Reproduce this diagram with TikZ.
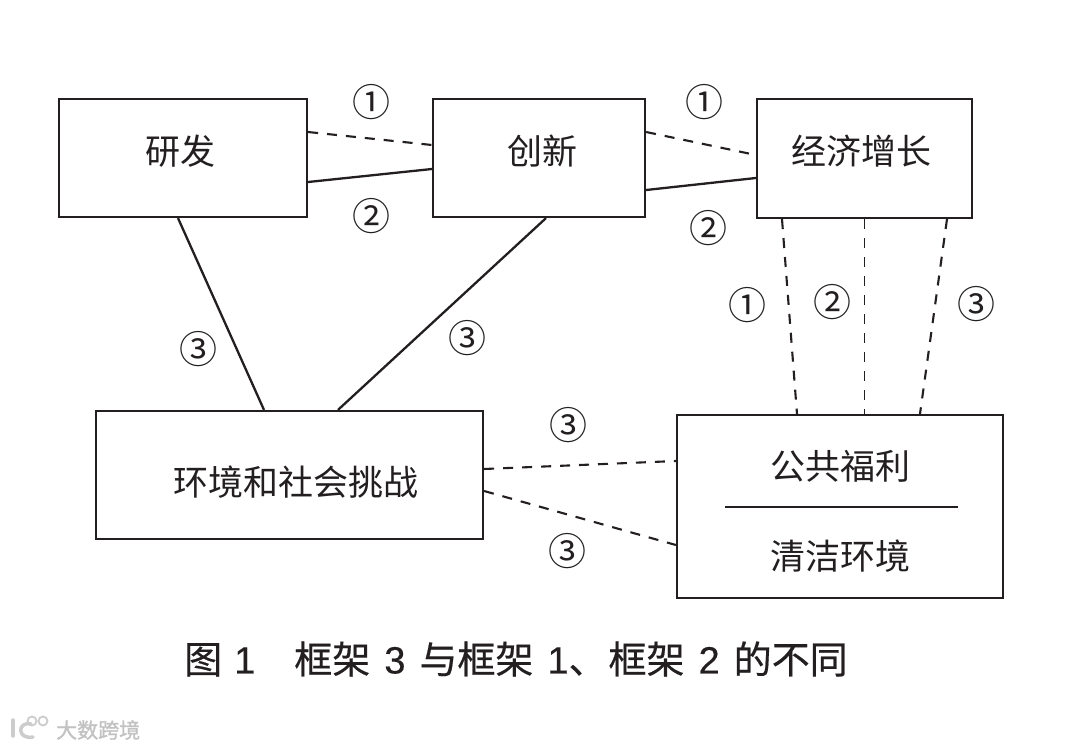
\documentclass[tikz,border=0pt]{standalone}
\usepackage{fontspec}
\setmainfont{Liberation Sans}
\newfontfamily\cjk{Noto Sans CJK SC}
\newfontfamily\capcjk{Noto Sans CJK SC}[FakeBold=0.5]
\newfontfamily\capnum{Liberation Sans}[FakeBold=0.3]
\newfontfamily\wmcjk{Noto Sans CJK SC}[FakeBold=1.2]
\definecolor{ink}{HTML}{231F20}
\tikzset{
  box/.style={draw=ink,line width=2.2pt,inner sep=0pt},
  dashline/.style={draw=ink,line width=2.1pt,dash pattern=on 10pt off 9pt},
  solidline/.style={draw=ink,line width=2.3pt},
  boxtext/.style={text=ink,inner sep=0pt,font=\cjk\fontsize{35}{35}\selectfont},
  num/.style={text=ink,inner sep=0pt,font=\cjk\fontsize{38}{38}\selectfont}
}
\begin{document}
\begin{tikzpicture}[x=1pt,y=-1pt]
\useasboundingbox[fill=white] (0,0) rectangle (1080,750);
\node[box,minimum width=248pt,minimum height=118pt] (a) at (183,158) {};
\node[box,minimum width=212pt,minimum height=118pt] (b) at (539,158) {};
\node[box,minimum width=215pt,minimum height=119pt] (c) at (864.5,158.5) {};
\node[box,minimum width=387pt,minimum height=128pt] (d) at (289.5,475) {};
\node[box,minimum width=326pt,minimum height=183pt] (e) at (840,506.5) {};
\node[boxtext] (ta) at (180,151) {研发};
\node[boxtext] (tb) at (542,151) {创新};
\node[boxtext] (tc) at (861,151) {经济增长};
\node[boxtext] (td) at (296,482) {环境和社会挑战};
\node[boxtext] (te) at (840,466) {公共福利};
\node[boxtext] (tf) at (840,556) {清洁环境};
\draw[solidline,line width=2pt] ([xshift=-115pt]e.center) -- ([xshift=118pt]e.center);
% connectors
\draw[dashline] ([yshift=26pt]a.east) -- ([yshift=13pt]b.west);
\draw[solidline] ([yshift=-24pt]a.east) -- ([yshift=-11pt]b.west);
\draw[dashline] ([yshift=26pt]b.east) -- ([yshift=3.5pt]c.west);
\draw[solidline] ([yshift=-32pt]b.east) -- ([yshift=-19.5pt]c.west);
\draw[solidline] ([xshift=-5pt]a.south) -- ([xshift=-25.5pt]d.north);
\draw[solidline] ([xshift=7pt]b.south) -- ([xshift=48.5pt]d.north);
\draw[dashline] ([xshift=-82.5pt]c.south) -- ([xshift=-43pt]e.north);
\draw[dashline,line width=1.6pt] (c.south) -- ([xshift=24.5pt]e.north);
\draw[dashline] ([xshift=82.5pt]c.south) -- ([xshift=80pt]e.north);
\draw[dashline] ([yshift=6pt]d.east) -- ([yshift=45.5pt]e.west);
\draw[dashline] ([yshift=-16pt]d.east) -- ([yshift=-38.5pt]e.west);
% numbers
\node[num] (n1) at (371,102) {①};
\node[num] (n2) at (704,102) {①};
\node[num] (n3) at (371,216) {②};
\node[num] (n4) at (708,228) {②};
\node[num] (n5) at (747,305) {①};
\node[num] (n6) at (832,302) {②};
\node[num] (n7) at (976,304) {③};
\node[num] (n8) at (198,349) {③};
\node[num] (n9) at (467,338) {③};
\node[num] (n10) at (568,425) {③};
\node[num] (n11) at (567,551) {③};
% caption
\node[inner sep=0pt,text=ink,font=\fontsize{38}{38}\selectfont,anchor=west] (cap) at (184,659)
  {{\capcjk 图}\hspace{12pt}{\capnum 1}\hspace{39pt}{\capcjk 框架}\hspace{14pt}{\capnum 3}\hspace{14pt}{\capcjk 与框架}\hspace{14pt}{\capnum 1}{\capcjk 、}\hspace{2pt}{\capcjk 框架}\hspace{14pt}{\capnum 2}\hspace{14pt}{\capcjk 的不同}};
% watermark
\node[inner sep=0pt,text=black!24,font=\wmcjk\fontsize{21}{21}\selectfont,anchor=west] (wm) at (56,730) {大数跨境};
\draw[black!20,line width=3.5pt,line cap=round] (13,720) -- (13,736);
\draw[black!20,line width=3.5pt,line cap=round] (31,724) .. controls (17,721) and (17,740) .. (33,737);
\draw[black!20,line width=1.8pt] (32,721) circle[radius=4.5pt];
\draw[black!20,line width=1.8pt] (43,721) circle[radius=4.5pt];
\end{tikzpicture}
\end{document}
